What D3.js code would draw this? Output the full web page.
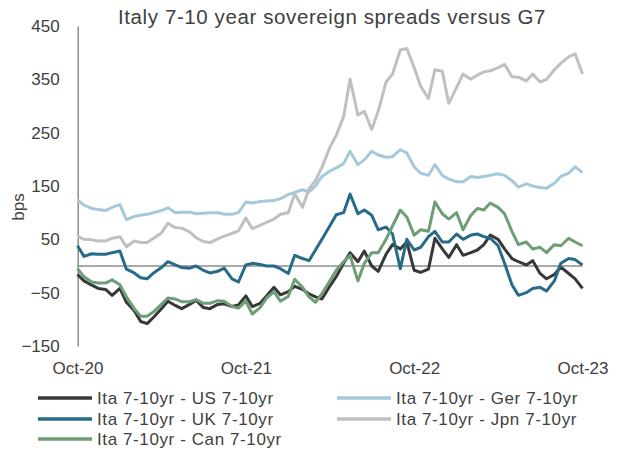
<!DOCTYPE html>
<html>
<head>
<meta charset="utf-8">
<script src="https://cdn.jsdelivr.net/npm/d3@7"></script>
<style>
  body { margin: 0; background: #fff; }
  svg { font-family: "Liberation Sans", Arial, sans-serif; }
</style>
</head>
<body>
<svg id="chart"></svg>
<script>
// semi-monthly sample dates
const dates = (
  '2020-10-01 2020-10-15 2020-11-01 2020-11-15 2020-12-01 2020-12-15 ' +
  '2021-01-01 2021-01-15 2021-02-01 2021-02-15 2021-03-01 2021-03-15 2021-04-01 2021-04-15 ' +
  '2021-05-01 2021-05-15 2021-06-01 2021-06-15 2021-07-01 2021-07-15 2021-08-01 2021-08-15 ' +
  '2021-09-01 2021-09-15 2021-10-01 2021-10-15 2021-11-01 2021-11-15 2021-12-01 2021-12-15 ' +
  '2022-01-01 2022-01-15 2022-02-01 2022-02-15 2022-03-01 2022-03-15 2022-04-01 2022-04-15 ' +
  '2022-05-01 2022-05-15 2022-06-01 2022-06-15 2022-07-01 2022-07-15 2022-08-01 2022-08-15 ' +
  '2022-09-01 2022-09-15 2022-10-01 2022-10-15 2022-11-01 2022-11-15 2022-12-01 2022-12-15 ' +
  '2023-01-01 2023-01-15 2023-02-01 2023-02-15 2023-03-01 2023-03-15 2023-04-01 2023-04-15 ' +
  '2023-05-01 2023-05-15 2023-06-01 2023-06-15 2023-07-01 2023-07-15 2023-08-01 2023-08-15 ' +
  '2023-09-01 2023-09-15 2023-10-01'
).split(' ')

const usSpread = [
  -16, -28, -36, -42, -44, -55, -42, -68, -84, -104, -108, -96, -80, -66, -74, -80, -72, -64, -78, -80, -72, -71, -76, -73,
  -56, -76, -70, -56, -40, -54, -48, -38, -44, -52, -58, -62, -38, -20, 5, 25, 8, 28, 0, -10, 22, 40, 32, 45,
  -8, -12, -6, 52, 32, 16, 40, 20, 25, 30, 40, 58, 50, 32, 14, 8, 2, 10, -14, -24, -16, -2, -14, -24, -42
]
const gerSpread = [
  124, 114, 108, 106, 104, 110, 115, 87, 93, 95, 97, 100, 104, 109, 100, 101, 101, 98, 99, 100, 100, 97, 97, 100,
  120, 118, 121, 122, 123, 126, 134, 138, 143, 139, 150, 168, 178, 184, 192, 215, 190, 199, 215, 208, 204, 205, 218, 212,
  186, 174, 170, 190, 170, 163, 158, 158, 168, 166, 168, 170, 173, 170, 160, 148, 154, 150, 147, 146, 155, 168, 174, 186, 175
]
const ukSpread = [
  38, 18, 23, 22, 22, 25, 28, -6, -13, -22, -24, -13, -3, 8, 2, -3, -4, 0, -8, -13, -10, -4, -24, -30,
  2, 5, 3, 0, 0, -5, -14, 20, 14, 10, 30, 50, 75, 96, 100, 135, 98, 105, 95, 68, 73, 60, -5, 50,
  30, 35, 55, 65, 45, 45, 60, 50, 58, 60, 55, 52, 38, 5, -35, -55, -50, -42, -40, -47, -28, 5, 14, 12, 2
]
const jpnSpread = [
  56, 50, 49, 47, 47, 52, 55, 36, 47, 44, 44, 52, 62, 80, 72, 71, 64, 53, 46, 44, 51, 56, 61, 66,
  90, 70, 76, 82, 88, 97, 100, 135, 110, 145, 160, 185, 222, 245, 280, 350, 283, 290, 256, 290, 345, 360, 405, 408,
  372, 337, 314, 368, 365, 305, 335, 360, 350, 358, 364, 366, 372, 378, 355, 354, 347, 360, 345, 350, 368, 380, 392, 398, 360
]
const canSpread = [
  -5, -20, -30, -32, -32, -26, -35, -58, -80, -94, -94, -86, -72, -60, -62, -67, -67, -63, -70, -70, -65, -66, -76, -79,
  -66, -90, -78, -60, -48, -66, -57, -25, -40, -58, -68, -52, -28, -8, 8, 20, -28, 5, 25, 25, 50, 75, 105, 92,
  58, 68, 65, 120, 98, 88, 100, 68, 95, 108, 105, 118, 110, 98, 65, 40, 45, 32, 35, 25, 40, 38, 52, 45, 38
]

const seriesNames = [
  'Ita 7-10yr - US 7-10yr',
  'Ita 7-10yr - Ger 7-10yr',
  'Ita 7-10yr - UK 7-10yr',
  'Ita 7-10yr - Jpn 7-10yr',
  'Ita 7-10yr - Can 7-10yr'
]
const yTicks = [-150, -50, 50, 150, 250, 350, 450]
const xTicks = ['2020-10-01', '2021-10-01', '2022-10-01', '2023-10-01']

const colors = ['#383838', '#a5c9db', '#266b88', '#c0c0c0', '#6e9e76']
const values = [usSpread, gerSpread, ukSpread, jpnSpread, canSpread]

const parse = d3.timeParse('%Y-%m-%d')
const series = seriesNames.map((name, i) => ({
  name,
  color: colors[i],
  points: dates.map((d, j) => ({ date: parse(d), value: values[i][j] }))
}))

const width = 625
const height = 451
const svg = d3.select('#chart')
  .attr('width', width)
  .attr('height', height)

const x = d3.scaleTime()
  .domain([parse('2020-10-01'), parse('2023-10-01')])
  .range([77.5, 582.5])
const y = d3.scaleLinear()
  .domain([-150, 450])
  .range([346, 26])

// title
svg.append('text')
  .attr('x', 332)
  .attr('y', 24)
  .attr('text-anchor', 'middle')
  .attr('font-size', 20.5)
  .attr('letter-spacing', 0.6)
  .attr('fill', '#404040')
  .text('Italy  7-10 year sovereign spreads versus G7')

// y axis
const yAxis = svg.append('g')
  .attr('transform', 'translate(77.7,0)')
  .call(d3.axisLeft(y).tickValues(yTicks).tickSize(0).tickSizeOuter(0).tickPadding(18))
yAxis.select('.domain').attr('stroke', '#8c8c8c').attr('stroke-width', 1.5)
yAxis.selectAll('text').attr('font-size', 17).attr('fill', '#404040')
  .attr('font-family', '"Liberation Sans", Arial, sans-serif')

svg.append('text')
  .attr('transform', 'translate(24,207) rotate(-90)')
  .attr('text-anchor', 'middle')
  .attr('font-size', 17)
  .attr('fill', '#404040')
  .text('bps')

// x axis labels
const xAxis = svg.append('g')
  .attr('transform', 'translate(0,346)')
  .call(d3.axisBottom(x).tickValues(xTicks.map(parse)).tickFormat(d3.timeFormat('%b-%y'))
    .tickSize(0).tickPadding(16))
xAxis.select('.domain').remove()
xAxis.selectAll('text').attr('font-size', 17).attr('fill', '#404040')
  .attr('font-family', '"Liberation Sans", Arial, sans-serif')

// zero line
svg.append('line')
  .attr('x1', x.range()[0])
  .attr('x2', x.range()[1])
  .attr('y1', y(0))
  .attr('y2', y(0))
  .attr('stroke', '#8c8c8c')
  .attr('stroke-width', 1.5)

const line = d3.line()
  .x(p => x(p.date))
  .y(p => y(p.value))

svg.append('g')
  .selectAll('path')
  .data(series)
  .enter().append('path')
  .attr('d', s => line(s.points))
  .attr('fill', 'none')
  .attr('stroke', s => s.color)
  .attr('stroke-width', 3)
  .attr('stroke-linejoin', 'round')

// legend, two columns
const legendPos = [[38, 398], [337, 398], [38, 419], [337, 419], [38, 439]]
const legend = svg.append('g')
  .selectAll('g')
  .data(series)
  .enter().append('g')
  .attr('transform', (s, i) => 'translate(' + legendPos[i][0] + ',' + legendPos[i][1] + ')')

legend.append('line')
  .attr('x1', 0)
  .attr('x2', 54)
  .attr('stroke', s => s.color)
  .attr('stroke-width', 3.5)

legend.append('text')
  .attr('x', 59)
  .attr('dy', '0.35em')
  .attr('font-size', 17)
  .attr('letter-spacing', 0.6)
  .attr('fill', '#404040')
  .text(s => s.name)
</script>
</body>
</html>
